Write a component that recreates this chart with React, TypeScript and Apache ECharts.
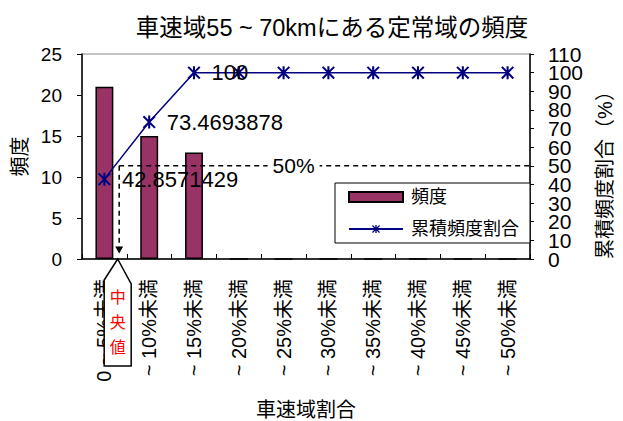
import React, { useEffect, useRef } from 'react';
import * as echarts from 'echarts';

// Speed-share classes on the x axis
const categories = [
  '0 ~ 5%未満',
  '~ 10%未満',
  '~ 15%未満',
  '~ 20%未満',
  '~ 25%未満',
  '~ 30%未満',
  '~ 35%未満',
  '~ 40%未満',
  '~ 45%未満',
  '~ 50%未満',
];
// Occurrence count per class (left axis)
const frequency = [21, 15, 13, 0, 0, 0, 0, 0, 0, 0];
// Cumulative share in % (right axis)
const cumulativeShare = [42.8571429, 73.4693878, 100, 100, 100, 100, 100, 100, 100, 100];
// Only the first points carry a value label
const labeledPoints = 3;
// Right-axis tick labels (%), packed tightly as in the layout
const shareTicks = [0, 10, 20, 30, 40, 50, 60, 70, 80, 90, 100, 110];

// Median annotation: 50% level, located between the 1st and 2nd class
const medianLevel = 50;
const medianAt = 0.33;

const FONT = "'Liberation Sans', 'Noto Sans CJK JP', sans-serif";
const NAVY = '#000080';
const MAROON = '#993366';

// Asterisk marker: vertical bar plus two diagonals
const STAR =
  'path://M42,0H58V100H42Z M0,11L11,0L100,89L89,100Z M89,0L100,11L11,100L0,89Z';

export default function App() {
  const ref = useRef<HTMLDivElement>(null);

  useEffect(() => {
    if (!ref.current) return;
    const chart = echarts.init(ref.current, undefined, { renderer: 'svg' });
    const axisLineStyle = { color: '#000', width: 1.5 };

    chart.setOption({
      animation: false,
      backgroundColor: '#fff',
      textStyle: { fontFamily: FONT, color: '#000' },
      title: {
        text: '車速域55 ~ 70kmにある定常域の頻度',
        left: 327,
        top: 11,
        textAlign: 'center',
        textStyle: { fontSize: 23.5, fontWeight: 'normal', color: '#000', fontFamily: FONT },
      },
      grid: {
        left: 82,
        top: 54,
        width: 458,
        height: 205,
        show: true,
        borderColor: '#888',
        borderWidth: 1,
        backgroundColor: 'transparent',
      },
      legend: {
        orient: 'vertical',
        left: 335,
        top: 183,
        padding: [5, 11, 5, 13],
        itemGap: 14,
        itemWidth: 54,
        itemHeight: 10,
        borderColor: '#000',
        borderWidth: 1,
        backgroundColor: '#fff',
        textStyle: { fontSize: 18, color: '#000', fontFamily: FONT, padding: [0, 0, 0, 3] },
        data: [{ name: '頻度', icon: 'rect' }, { name: '累積頻度割合' }],
      },
      xAxis: {
        type: 'category',
        data: categories,
        name: '車速域割合',
        nameLocation: 'middle',
        nameGap: 141,
        nameTextStyle: { fontSize: 20, color: '#000', fontFamily: FONT },
        axisLine: { lineStyle: axisLineStyle },
        axisTick: { show: true, inside: true, length: 5, interval: 0, lineStyle: { color: '#000' } },
        axisLabel: { rotate: 90, interval: 0, fontSize: 20, color: '#000', margin: 20, fontFamily: FONT },
      },
      yAxis: [
        {
          type: 'value',
          min: 0,
          max: 25,
          interval: 5,
          position: 'left',
          name: '頻度',
          nameLocation: 'middle',
          nameRotate: 90,
          nameGap: 44,
          nameTextStyle: { fontSize: 20, color: '#000', fontFamily: FONT },
          axisLine: { show: true, lineStyle: axisLineStyle },
          axisTick: { show: true, length: 5, lineStyle: { color: '#000' } },
          axisLabel: {
            fontSize: 19,
            color: '#000',
            margin: 20,
            fontFamily: FONT,
            showMinLabel: true,
            showMaxLabel: true,
          },
          splitLine: { show: false },
        },
        {
          type: 'value',
          min: 0,
          max: 110,
          interval: 10,
          position: 'right',
          name: '累積頻度割合（%）',
          nameLocation: 'middle',
          nameRotate: 90,
          nameGap: 65,
          nameTextStyle: { fontSize: 20, color: '#000', fontFamily: FONT, padding: [0, 27, 0, 0] },
          axisLine: { show: true, lineStyle: axisLineStyle },
          axisTick: { show: true, length: 4, lineStyle: { color: '#000' } },
          // labels are set as texts below so that every tick keeps its number
          axisLabel: { show: false },
          splitLine: { show: false },
        },
      ],
      series: [
        {
          type: 'bar',
          name: '頻度',
          data: frequency,
          yAxisIndex: 0,
          barWidth: '40%',
          itemStyle: { color: MAROON, borderColor: '#000', borderWidth: 1.5 },
        },
        {
          type: 'line',
          name: '累積頻度割合',
          data: cumulativeShare,
          yAxisIndex: 1,
          symbol: STAR,
          symbolSize: 13,
          lineStyle: { color: NAVY, width: 1.5 },
          itemStyle: { color: NAVY },
          label: {
            show: true,
            position: 'right',
            distance: 11,
            fontSize: 22,
            color: '#000',
            fontFamily: FONT,
            formatter: (p: any) => (p.dataIndex < labeledPoints ? String(p.value) : ''),
          },
        },
      ],
    });

    // Positions taken from the axes' own scales
    const x0 = chart.convertToPixel({ xAxisIndex: 0 }, 0) as number;
    const x1 = chart.convertToPixel({ xAxisIndex: 0 }, 1) as number;
    const step = x1 - x0;
    const xLast = chart.convertToPixel({ xAxisIndex: 0 }, categories.length - 1) as number;
    const rightX = xLast + step / 2;
    const mx = x0 + step * medianAt;
    const y50 = chart.convertToPixel({ yAxisIndex: 1 }, medianLevel) as number;
    const yBase = chart.convertToPixel({ yAxisIndex: 0 }, 0) as number;
    const labelX = (chart.convertToPixel({ xAxisIndex: 0 }, 4) as number) + 10;
    const cx = mx - 1.5;
    const dash = { stroke: '#000', lineWidth: 1.5, lineDash: [5, 4] };

    const shareLabels = shareTicks.map((v) => ({
      type: 'text',
      z: 50,
      x: rightX + 18,
      y: chart.convertToPixel({ yAxisIndex: 1 }, v) as number,
      style: {
        text: String(v),
        fontSize: 21,
        fill: '#000',
        fontFamily: FONT,
        align: 'left',
        verticalAlign: 'middle',
      },
    }));

    chart.setOption({
      graphic: {
        elements: [
          ...shareLabels,
          { type: 'line', z: 100, shape: { x1: mx, y1: y50, x2: rightX, y2: y50 }, style: dash },
          { type: 'line', z: 100, shape: { x1: mx, y1: y50, x2: mx, y2: yBase - 12 }, style: dash },
          {
            type: 'polygon',
            z: 100,
            shape: { points: [[mx - 4, yBase - 12.5], [mx + 4, yBase - 12.5], [mx, yBase - 5.5]] },
            style: { fill: '#000' },
          },
          {
            type: 'text',
            z: 101,
            x: labelX,
            y: y50,
            style: {
              text: '50%',
              fontSize: 21,
              fill: '#000',
              fontFamily: FONT,
              align: 'center',
              verticalAlign: 'middle',
              backgroundColor: '#fff',
              padding: [0, 5],
            },
          },
          {
            type: 'polygon',
            z: 100,
            shape: {
              points: [
                [cx, yBase],
                [cx + 13.5, yBase + 25],
                [cx + 13.5, yBase + 107],
                [cx - 13.5, yBase + 107],
                [cx - 13.5, yBase + 21],
              ],
            },
            style: { fill: '#fff', stroke: '#000', lineWidth: 1.5 },
          },
          {
            type: 'text',
            z: 101,
            x: cx,
            y: yBase + 63,
            style: {
              text: '中\n央\n値',
              fontSize: 16,
              lineHeight: 25,
              fill: '#f00',
              fontFamily: FONT,
              align: 'center',
              verticalAlign: 'middle',
            },
          },
        ],
      },
    });

    return () => chart.dispose();
  }, []);

  return <div ref={ref} style={{ position: 'fixed', left: 0, top: 0, width: 623, height: 421 }} />;
}
